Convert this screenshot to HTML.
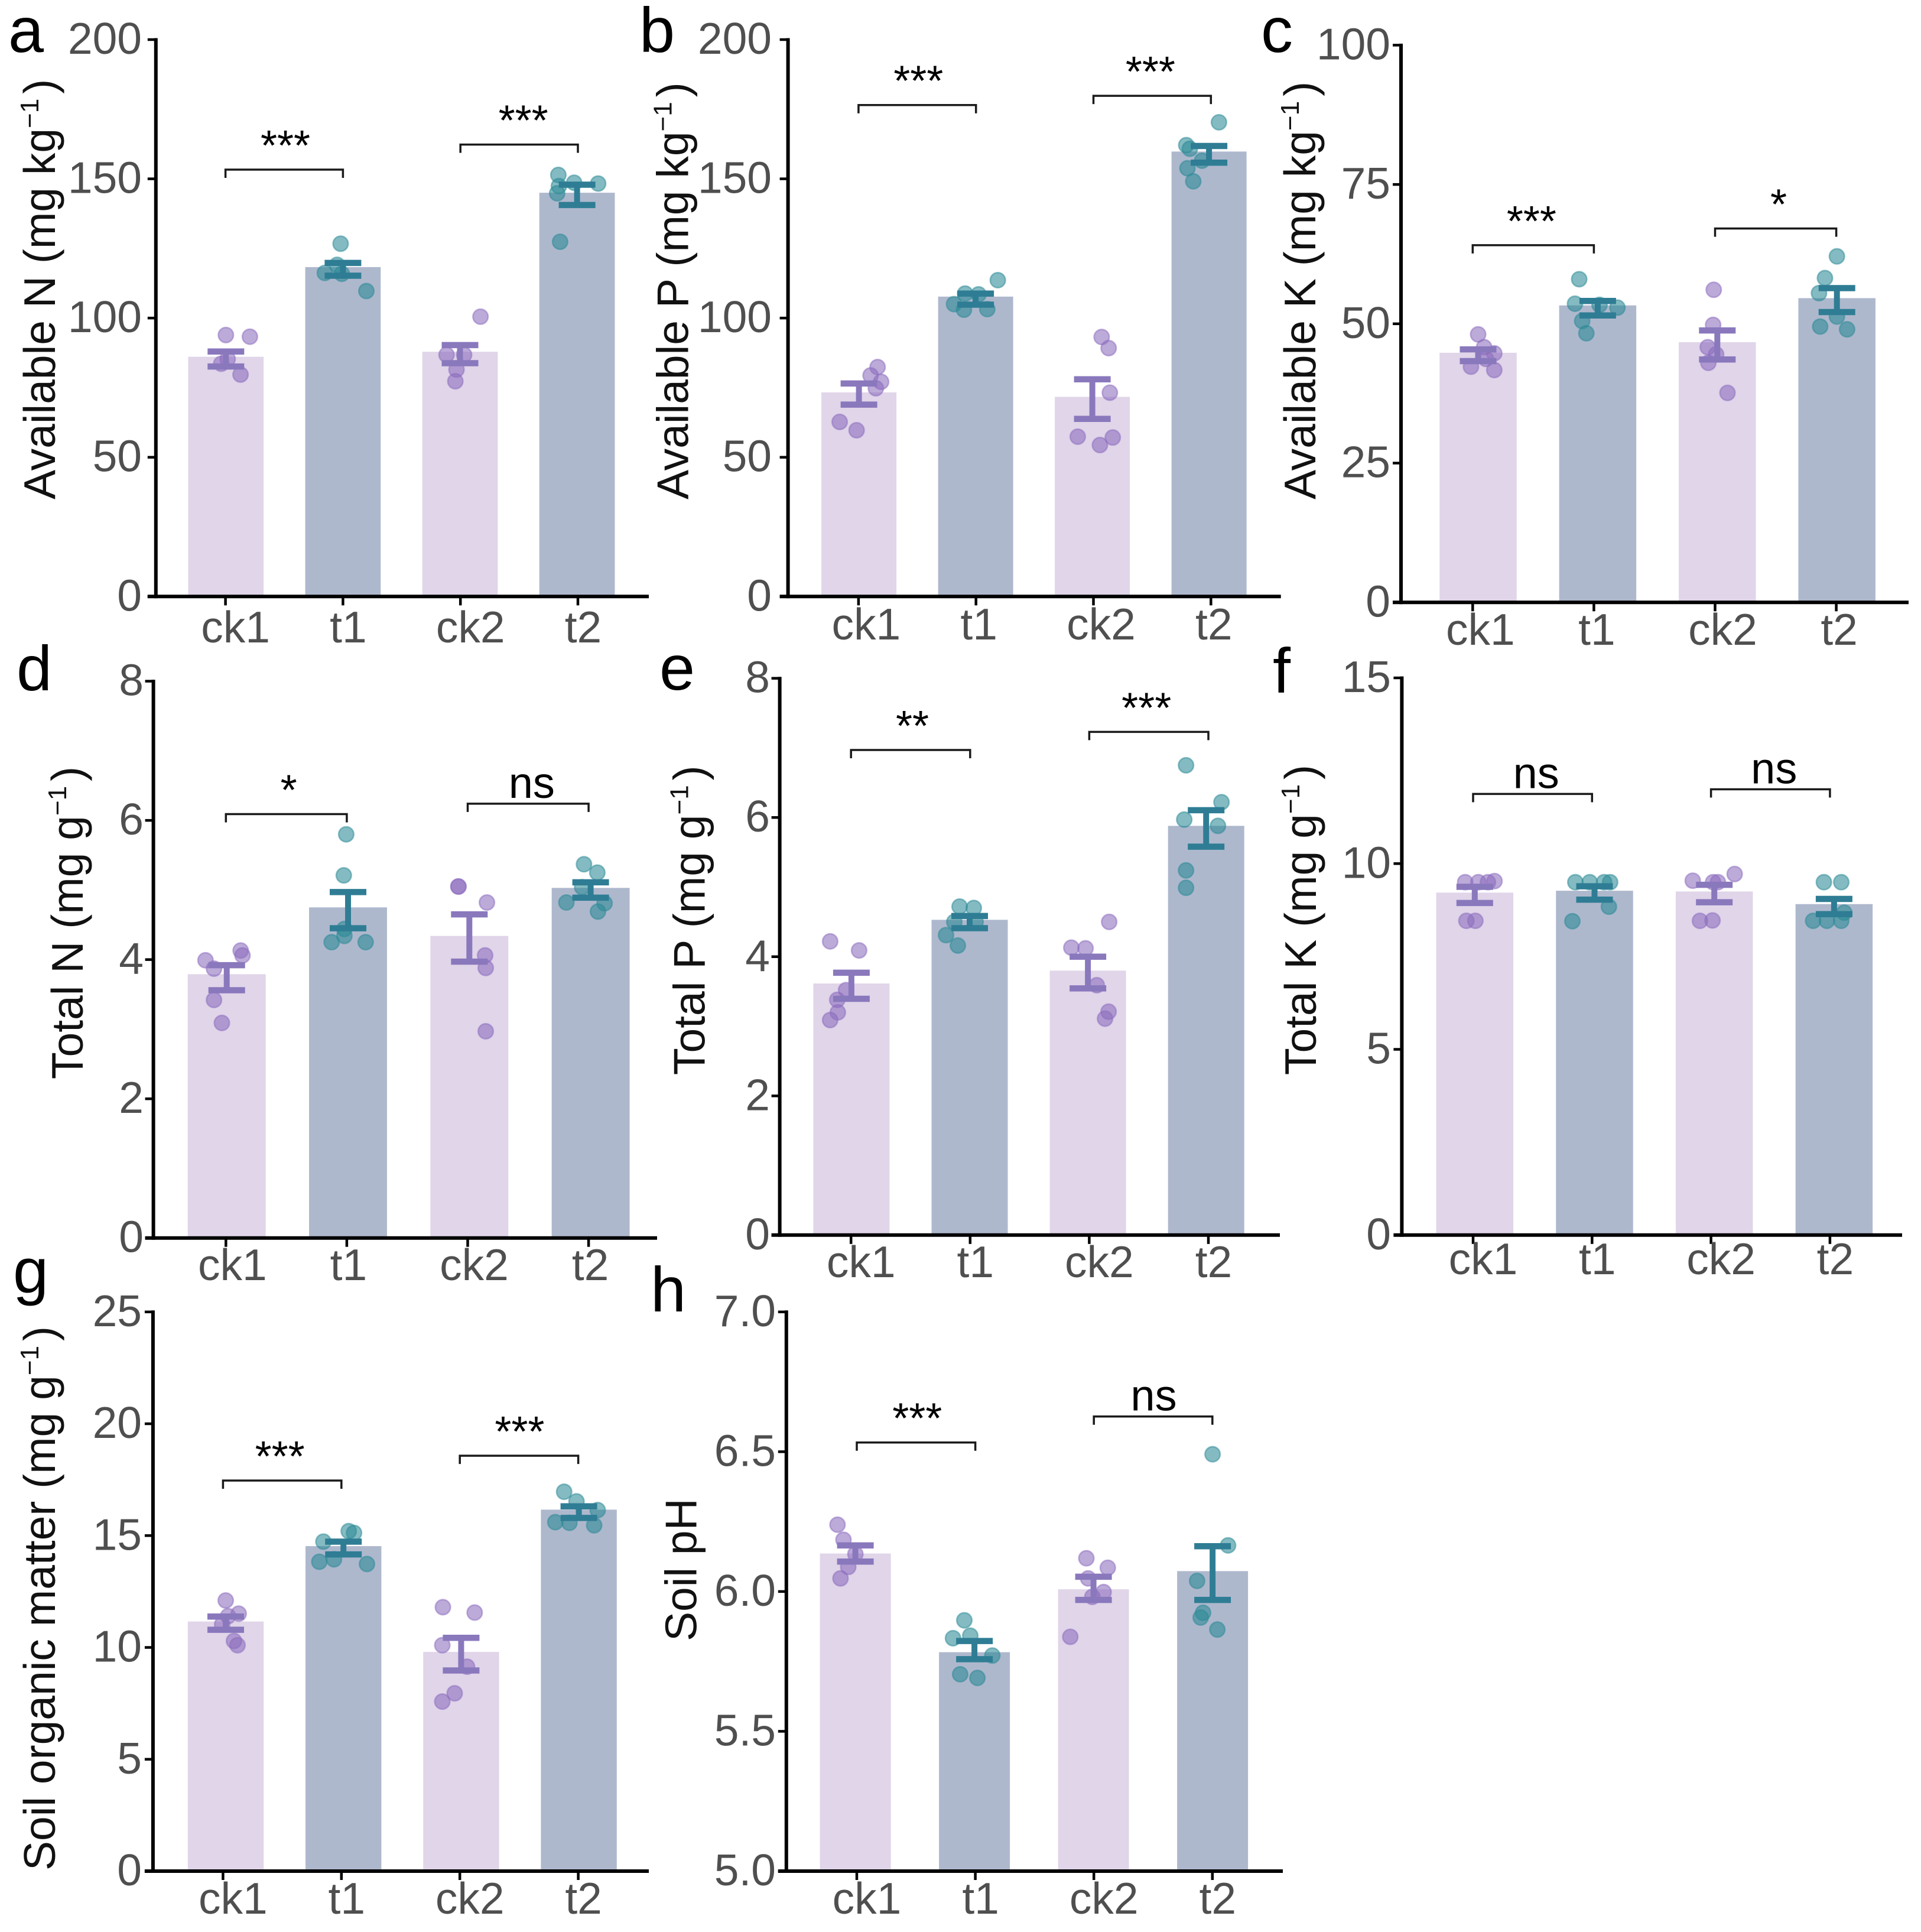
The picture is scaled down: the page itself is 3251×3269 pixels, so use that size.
<!DOCTYPE html>
<html lang="en">
<head>
<meta charset="utf-8">
<title>Soil nutrient bar charts</title>
<style>
html,body{margin:0;padding:0;background:#fff;}
svg{display:block;}
text{font-family:"Liberation Sans",Arial,sans-serif;}
</style>
</head>
<body>
<svg id="figure" xmlns="http://www.w3.org/2000/svg" width="3251" height="3269" viewBox="0 0 3251 3269">
<rect x="0" y="0" width="3251" height="3269" fill="#ffffff"/>
</svg>
<script>
const categories = ['ck1', 't1', 'ck2', 't2'];

/* a: Available N */
const availNTicks = ['0', '50', '100', '150', '200'];
const availNMeans = [86.1, 118.3, 87.9, 145];
const availNUpper = [88.0, 119.8, 90.3, 147.9];
const availNLower = [82.6, 115.2, 83.8, 140.6];
const availNPoints = [[93.9, 93.3, 83.6, 79.7, 85.3], [126.7, 119.1, 116.2, 115.9, 109.7], [100.5, 86.8, 86.8, 81.5, 77.3], [151.4, 148.6, 148.3, 147.4, 144.8, 127.4]];
const availNJitter = [[0, .205, -.04, .125, .015], [-.02, -.05, -.155, -.01, .2], [.175, -.115, .035, -.03, -.04], [-.16, -.025, .18, -.155, -.17, -.145]];
const availNBrackets = [153.3, 162.3];
const availNSig = ['***', '***'];

/* b: Available P */
const availPTicks = ['0', '50', '100', '150', '200'];
const availPMeans = [73.3, 107.7, 71.7, 159.8];
const availPUpper = [76.5, 108.8, 78, 161.8];
const availPLower = [68.9, 104.8, 63.8, 155.8];
const availPPoints = [[82.4, 79.4, 77.1, 74.8, 62.7, 59.7], [113.6, 108.8, 108.5, 105, 103, 103.2], [93.2, 89.2, 73.2, 57.4, 57.1, 54.4], [170.3, 162.1, 160.8, 156.5, 153.8, 149.1]];
const availPJitter = [[.16, .10, .19, .145, -.165, -.02], [.19, -.09, .025, -.185, -.10, .10], [.08, .14, .15, -.125, .175, .065], [.085, -.195, -.165, -.06, -.185, -.135]];
const availPBrackets = [176.5, 179.8];
const availPSig = ['***', '***'];

/* c: Available K */
const availKTicks = ['0', '25', '50', '75', '100'];
const availKMeans = [44.8, 53.3, 46.7, 54.6];
const availKUpper = [45.4, 54.1, 48.8, 56.4];
const availKLower = [43.3, 51.5, 43.6, 52.1];
const availKPoints = [[48.1, 45.8, 44.7, 43.7, 42.3, 41.7], [58, 53.6, 53.4, 52.9, 50.5, 48.3], [56.1, 49.8, 45.8, 44.5, 43, 37.6], [62.1, 58.2, 55.5, 51.3, 49.5, 49]];
const availKJitter = [[0, .05, .135, .065, -.06, .135], [-.155, -.19, .015, .165, -.13, -.095], [-.03, -.035, -.08, -.01, -.075, .085], [0, -.10, -.15, 0, -.14, .085]];
const availKBrackets = [64.1, 67.1];
const availKSig = ['***', '*'];

/* d: Total N */
const totalNTicks = ['0', '2', '4', '6', '8'];
const totalNMeans = [3.79, 4.75, 4.34, 5.03];
const totalNUpper = [3.92, 4.97, 4.65, 5.11];
const totalNLower = [3.56, 4.45, 3.97, 4.89];
const totalNPoints = [[4.13, 4.06, 3.99, 3.87, 3.42, 3.09], [5.80, 5.21, 4.44, 4.34, 4.25, 4.25], [5.05, 5.05, 4.82, 4.06, 3.88, 2.97], [5.37, 5.25, 5.04, 4.82, 4.81, 4.69]];
const totalNJitter = [[.115, .13, -.175, -.105, -.105, -.04], [-.015, -.035, -.03, -.03, -.135, .145], [-.09, -.09, .145, .13, .135, .135], [-.055, .055, -.07, -.2, .115, .06]];
const totalNBrackets = [6.09, 6.24];
const totalNSig = ['*', 'ns'];

/* e: Total P */
const totalPTicks = ['0', '2', '4', '6', '8'];
const totalPMeans = [3.615, 4.53, 3.80, 5.88];
const totalPUpper = [3.77, 4.585, 4.0, 6.105];
const totalPLower = [3.395, 4.41, 3.545, 5.58];
const totalPPoints = [[4.22, 4.09, 3.52, 3.38, 3.20, 3.09], [4.72, 4.70, 4.50, 4.50, 4.31, 4.16], [4.50, 4.13, 4.12, 3.59, 3.21, 3.11], [6.75, 6.22, 5.97, 5.88, 5.24, 4.99]];
const totalPJitter = [[-.18, .065, -.045, -.12, -.115, -.18], [-.085, .035, -.13, .05, -.2, -.10], [.18, -.14, -.02, .075, .175, .145], [-.17, .13, -.185, .10, -.17, -.17]];
const totalPBrackets = [6.97, 7.23];
const totalPSig = ['**', '***'];

/* f: Total K */
const totalKTicks = ['0', '5', '10', '15'];
const totalKMeans = [9.22, 9.27, 9.25, 8.91];
const totalKUpper = [9.375, 9.39, 9.43, 9.05];
const totalKLower = [8.94, 9.03, 8.96, 8.64];
const totalKPoints = [[9.50, 9.5, 9.5, 9.53, 8.46, 8.46], [9.5, 9.5, 9.5, 9.5, 8.84, 8.45], [9.54, 9.5, 9.5, 9.72, 8.46, 8.47], [9.5, 9.5, 8.68, 8.46, 8.46, 8.46]];
const totalKJitter = [[-.08, .03, .11, .165, -.07, .005], [-.16, -.04, .08, .13, .12, -.185], [-.18, -.01, .03, .17, -.12, -.015], [-.085, .06, .085, -.175, -.06, .06]];
const totalKBrackets = [11.875, 12.0];
const totalKSig = ['ns', 'ns'];

/* g: Soil organic matter */
const somTicks = ['0', '5', '10', '15', '20', '25'];
const somMeans = [11.16, 14.53, 9.80, 16.16];
const somUpper = [11.38, 14.73, 10.43, 16.31];
const somLower = [10.79, 14.16, 8.97, 15.79];
const somPoints = [[12.10, 11.51, 11.4, 11.03, 10.29, 10.1], [15.2, 15.12, 14.73, 13.94, 13.83, 13.73], [11.8, 11.56, 10.1, 9.14, 7.95, 7.58], [16.96, 16.53, 16.14, 15.57, 15.6, 15.46]];
const somJitter = [[0, .11, .02, -.03, .07, .1], [.045, .09, -.17, -.08, -.205, .2], [-.155, .115, -.16, .05, -.055, -.16], [-.125, -.02, .16, -.08, -.2, .13]];
const somBrackets = [17.46, 18.57];
const somSig = ['***', '***'];

/* h: Soil pH */
const phTicks = ['5.0', '5.5', '6.0', '6.5', '7.0'];
const phMeans = [6.136, 5.783, 6.008, 6.073];
const phUpper = [6.165, 5.823, 6.053, 6.162];
const phLower = [6.107, 5.758, 5.97, 5.97];
const phPoints = [[6.239, 6.185, 6.134, 6.088, 6.047], [5.897, 5.842, 5.833, 5.771, 5.704, 5.691], [6.119, 6.085, 6.047, 5.998, 5.981, 5.838], [6.491, 6.165, 6.038, 5.924, 5.907, 5.864]];
const phJitter = [[-.15, -.10, 0, -.06, -.125], [-.085, -.035, -.18, .15, -.12, .025], [-.06, .12, -.045, .085, -.01, -.195], [0, .13, -.13, -.08, -.10, .04]];
const phBrackets = [6.533, 6.626];
const phSig = ['***', 'ns'];

const panels = [
  {id:'a', lx:14, ly:88, min:0, max:200, ax:263.8, top:67, y0:1009.3, right:1098, tick:381.6, tickStep:198.8, bar:382.3, barStep:198.1, w:127.7, lblR:240, lblBase:1087, shift:9, title:'Available N (mg kg', sup:true, tx:93, ty:845, sigDx:[2,7],
   ticks:availNTicks, means:availNMeans, upper:availNUpper, lower:availNLower, points:availNPoints, jitter:availNJitter, brackets:availNBrackets, sig:availNSig},
  {id:'b', lx:1082, ly:88, min:0, max:200, ax:1333.6, top:67, y0:1009.3, right:2167.7, tick:1452.9, tickStep:198.8, bar:1453.6, barStep:197.5, w:127, lblR:1306, lblBase:1082, shift:5, title:'Available P (mg kg', sup:true, tx:1164.5, ty:845, sigDx:[2,-3],
   ticks:availPTicks, means:availPMeans, upper:availPUpper, lower:availPLower, points:availPPoints, jitter:availPJitter, brackets:availPBrackets, sig:availPSig},
  {id:'c', lx:2134, ly:88, min:0, max:100, ax:2371, top:76.4, y0:1019.3, right:3230, tick:2492.3, tickStep:205.1, bar:2501.5, barStep:202.4, w:130.5, lblR:2353, lblBase:1091, shift:5, title:'Available K (mg kg', sup:true, tx:2226, ty:845, sigDx:[-3,5],
   ticks:availKTicks, means:availKMeans, upper:availKUpper, lower:availKLower, points:availKPoints, jitter:availKJitter, brackets:availKBrackets, sig:availKSig},
  {id:'d', lx:28, ly:1168, min:0, max:8, ax:259.6, top:1152.6, y0:2094.7, right:1112, tick:382.3, tickStep:204.6, bar:383.7, barStep:205.3, w:131.9, lblR:243, lblBase:2166, shift:3, title:'Total N (mg g', sup:true, tx:140, ty:1826, sigDx:[4,6],
   ticks:totalNTicks, means:totalNMeans, upper:totalNUpper, lower:totalNLower, points:totalNPoints, jitter:totalNJitter, brackets:totalNBrackets, sig:totalNSig},
  {id:'e', lx:1116, ly:1167, min:0, max:8, ax:1319.6, top:1147.7, y0:2089.8, right:2166, tick:1440.2, tickStep:201.6, bar:1440.9, barStep:200.1, w:129, lblR:1303, lblBase:2161, shift:9, title:'Total P (mg g', sup:true, tx:1192.6, ty:1819, sigDx:[3,-4],
   ticks:totalPTicks, means:totalPMeans, upper:totalPUpper, lower:totalPLower, points:totalPPoints, jitter:totalPJitter, brackets:totalPBrackets, sig:totalPSig},
  {id:'f', lx:2154, ly:1172, min:0, max:15, ax:2372.4, top:1147, y0:2089.8, right:3219, tick:2493, tickStep:201.3, bar:2495.8, barStep:202.7, w:130.5, lblR:2354, lblBase:2156, shift:9, title:'Total K (mg g', sup:true, tx:2227, ty:1819, sigDx:[6,6],
   ticks:totalKTicks, means:totalKMeans, upper:totalKUpper, lower:totalKLower, points:totalKPoints, jitter:totalKJitter, brackets:totalKBrackets, sig:totalKSig},
  {id:'g', lx:22, ly:2187, min:0, max:25, ax:258.9, top:2219.8, y0:3166, right:1098, tick:377.4, tickStep:200.4, bar:382, barStep:199.2, w:128.4, lblR:240, lblBase:3238, shift:9, title:'Soil organic matter (mg g', sup:true, tx:93, ty:3165, sigDx:[-4,1],
   ticks:somTicks, means:somMeans, upper:somUpper, lower:somLower, points:somPoints, jitter:somJitter, brackets:somBrackets, sig:somSig},
  {id:'h', lx:1101, ly:2219, min:5, max:7, ax:1330.8, top:2219.8, y0:3166, right:2171, tick:1450, tickStep:200.6, bar:1447.6, barStep:201.5, w:120, lblR:1313, lblBase:3238, shift:9, title:'Soil pH', sup:false, tx:1178.6, ty:2777, sigDx:[2,1],
   ticks:phTicks, means:phMeans, upper:phUpper, lower:phLower, points:phPoints, jitter:phJitter, brackets:phBrackets, sig:phSig}
];

const NS = 'http://www.w3.org/2000/svg';
const svg = document.getElementById('figure');
const barColors = ['#e0d5e9', '#aeb8cd'];
const errColors = ['#8a78bd', '#2f7d94'];
const dotFill = ['#8b6cbd', '#2b8a96'];

function mk(parent, tag, attrs) {
  const el = document.createElementNS(NS, tag);
  for (const k in attrs) el.setAttribute(k, attrs[k]);
  parent.appendChild(el);
  return el;
}

function yOf(p, v) {
  return p.y0 - (v - p.min) / (p.max - p.min) * (p.y0 - p.top);
}
function barCenter(p, i) { return p.bar + i * p.barStep; }
function tickCenter(p, i) { return p.tick + i * p.tickStep; }

panels.forEach(function (p) {
  const g = mk(svg, 'g', {});
  
  

  categories.forEach(function (cat, i) {
    const kind = i % 2;
    const cx = barCenter(p, i);
    const yTop = yOf(p, p.means[i]);
    const bar = mk(g, 'rect', {x: cx - p.w / 2, y: yTop, width: p.w, height: p.y0 - yTop, fill: barColors[kind]});
    
    
  });

  categories.forEach(function (cat, i) {
    const kind = i % 2;
    const cx = barCenter(p, i);
    p.points[i].forEach(function (v, k) {
      const c = mk(g, 'circle', {cx: cx + p.jitter[i][k] * p.barStep, cy: yOf(p, v), r: 12.8, fill: dotFill[kind], 'fill-opacity': 0.58, stroke: dotFill[kind], 'stroke-opacity': 0.5, 'stroke-width': 2.6});
      
      
    });
  });

  categories.forEach(function (cat, i) {
    const kind = i % 2;
    const cx = barCenter(p, i);
    const up = yOf(p, p.upper[i]);
    const lo = yOf(p, p.lower[i]);
    const eg = mk(g, 'g', {stroke: errColors[kind], fill: 'none'});
    
    
    mk(eg, 'line', {x1: cx, x2: cx, y1: up, y2: lo, 'stroke-width': 10});
    mk(eg, 'line', {x1: cx - 31, x2: cx + 31, y1: up, y2: up, 'stroke-width': 10.5});
    mk(eg, 'line', {x1: cx - 31, x2: cx + 31, y1: lo, y2: lo, 'stroke-width': 10.5});
  });

  const yAxis = mk(g, 'line', {x1: p.ax, x2: p.ax, y1: p.top - 2.5, y2: p.y0 + 3, stroke: '#000', 'stroke-width': 6});
  
  
  const xAxis = mk(g, 'line', {x1: p.ax - 14, x2: p.right, y1: p.y0, y2: p.y0, stroke: '#000', 'stroke-width': 6});
  
  

  p.ticks.forEach(function (t, k) {
    const y = p.y0 - k / (p.ticks.length - 1) * (p.y0 - p.top);
    const tm = mk(g, 'line', {x1: p.ax - 14, x2: p.ax, y1: y, y2: y, stroke: '#000', 'stroke-width': 4.5});
    
    
    const lb = mk(g, 'text', {x: p.lblR, y: y + 24, 'text-anchor': 'end', 'font-size': 75, fill: '#4f4f4f'});
    lb.textContent = t;
    
    
  });

  categories.forEach(function (cat, i) {
    const x = tickCenter(p, i);
    const tm = mk(g, 'line', {x1: x, x2: x, y1: p.y0, y2: p.y0 + 15, stroke: '#000', 'stroke-width': 4.5});
    
    
    const lb = mk(g, 'text', {x: x + p.shift + (i % 2 === 0 ? 8 : 0), y: p.lblBase, 'text-anchor': 'middle', 'font-size': 75, fill: '#4f4f4f'});
    lb.textContent = cat;
    
    
  });

  p.brackets.forEach(function (v, k) {
    const x1 = tickCenter(p, k * 2);
    const x2 = tickCenter(p, k * 2 + 1);
    const y = yOf(p, v);
    const br = mk(g, 'path', {d: 'M' + x1 + ' ' + (y + 14) + 'V' + y + 'H' + x2 + 'V' + (y + 14), fill: 'none', stroke: '#1a1a1a', 'stroke-width': 3.5});
    
    
    const isNs = p.sig[k] === 'ns';
    const sl = mk(g, 'text', {x: (x1 + x2) / 2 + p.sigDx[k], y: y - (isNs ? 10 : 16), 'text-anchor': 'middle', 'font-size': isNs ? 74 : 72, fill: '#000'});
    sl.textContent = p.sig[k];
    
    
  });

  const tt = mk(g, 'text', {transform: 'translate(' + p.tx + ' ' + p.ty + ') rotate(-90)', 'font-size': 75, fill: '#111'});
  
  
  tt.appendChild(document.createTextNode(p.title));
  if (p.sup) {
    const s = mk(tt, 'tspan', {dy: -28, 'font-size': 44});
    s.textContent = '\u22121';
    const c = mk(tt, 'tspan', {dy: 28, dx: 8});
    c.textContent = ')';
  }

  const letter = mk(g, 'text', {x: p.lx, y: p.ly, 'font-size': 108, fill: '#000'});
  letter.textContent = p.id;
  
  
});
</script>
</body>
</html>
